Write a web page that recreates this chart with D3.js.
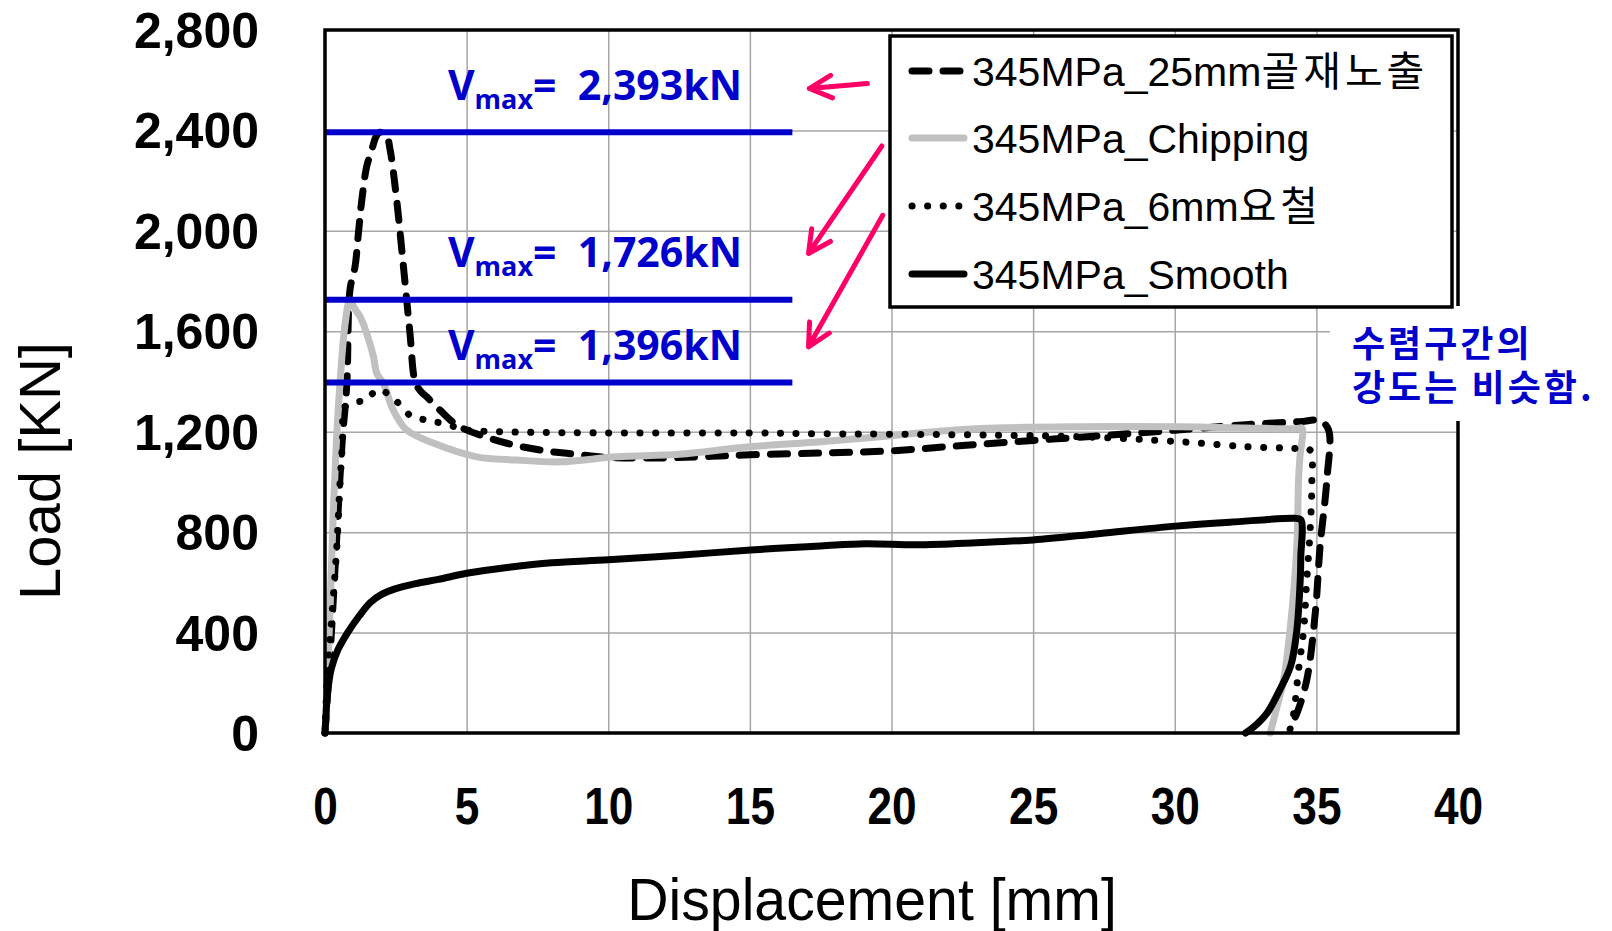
<!DOCTYPE html>
<html>
<head>
<meta charset="utf-8">
<script src="https://cdn.jsdelivr.net/npm/d3@7"></script>
<style>
  html, body { margin: 0; padding: 0; background: #fff; }
  svg { display: block; }
</style>
</head>
<body>
<div id="chart"></div>
<script>
// ---- data (displacement mm, load kN) ----
const exposed25 = [
  [0, 0], [0.2, 350], [0.4, 750], [0.6, 1150], [0.77, 1390], [0.88, 1764], [1.06, 1857],
  [1.18, 1991], [1.3, 2123], [1.47, 2255], [1.65, 2322], [1.8, 2375], [1.94, 2393],
  [2.18, 2375], [2.3, 2322], [2.53, 2123], [2.77, 1857], [3.0, 1592], [3.18, 1400],
  [3.35, 1365], [3.59, 1339], [4.06, 1286], [4.65, 1227], [5.47, 1187], [6.42, 1154],
  [7.59, 1127], [8.53, 1114], [10.0, 1098], [11.5, 1095], [13.2, 1100], [15, 1108],
  [17.5, 1115], [20, 1124], [22.5, 1145], [25, 1165], [27.5, 1185], [30, 1206],
  [32.5, 1228], [34.4, 1240], [35.13, 1244], [35.43, 1207], [35.37, 1008], [35.13, 742],
  [34.96, 477], [34.66, 211], [34.31, 78], [34.05, 20]
];
const chipping = [
  [0, 0], [0.08, 200], [0.18, 500], [0.3, 900], [0.42, 1200], [0.53, 1394], [0.7, 1620],
  [0.88, 1724], [1.05, 1690], [1.24, 1658], [1.47, 1592], [1.71, 1500], [1.83, 1432],
  [2.06, 1393], [2.41, 1286], [2.88, 1207], [3.82, 1155], [5.36, 1100], [6.77, 1087],
  [8.3, 1080], [10.3, 1100], [12.5, 1110], [15, 1140], [17.5, 1160], [19.6, 1180],
  [21.5, 1200], [23.13, 1213], [26.66, 1220], [30.2, 1220], [32.5, 1215], [34.3, 1212],
  [34.49, 1215], [34.42, 1100], [34.37, 1008], [34.31, 742], [34.07, 410], [33.84, 211],
  [33.6, 100], [33.37, 0]
];
const groove6 = [
  [0, 0], [0.05, 150], [0.1, 264], [0.24, 463], [0.41, 729], [0.53, 995], [0.62, 1167],
  [0.66, 1290], [0.77, 1306], [1.12, 1319], [1.47, 1326], [1.83, 1366], [2.3, 1346],
  [3.0, 1266], [3.59, 1246], [4.18, 1233], [5.0, 1207], [6.18, 1200], [8.53, 1196],
  [12, 1195], [15, 1195], [17.5, 1192], [20, 1190], [23.13, 1187], [26.66, 1180],
  [30.2, 1160], [32.55, 1140], [34.31, 1133], [34.78, 1127], [34.84, 1008], [34.78, 808],
  [34.66, 609], [34.55, 410], [34.37, 251], [34.2, 78], [34.07, 15]
];
const smooth = [
  [0, 0], [0.03, 60], [0.09, 160], [0.22, 255], [0.45, 330], [0.8, 400], [1.2, 465],
  [1.6, 520], [2.0, 552], [2.5, 575], [3.2, 595], [4.0, 612], [5.0, 636], [6.5, 660],
  [8.0, 678], [10, 690], [12.5, 708], [15.03, 729], [17.5, 745], [19.06, 754],
  [20.89, 750], [23, 758], [25, 769], [27.37, 795], [30.03, 824], [32, 840],
  [34.26, 855], [34.45, 850], [34.45, 700], [34.43, 609], [34.31, 410], [34.1, 270],
  [33.7, 170], [33.25, 78], [32.8, 25], [32.5, 0]
];

const seriesNames = ['345MPa_25mm골재노출', '345MPa_Chipping', '345MPa_6mm요철', '345MPa_Smooth'];
const xTicks = [0, 5, 10, 15, 20, 25, 30, 35, 40];
const yTicks = [0, 400, 800, 1200, 1600, 2000, 2400, 2800];

// peak loads marked with blue lines
const vmaxValues = [2393, 1726, 1396];
const vmaxLabels = ['2,393kN', '1,726kN', '1,396kN'];
const vmaxLabelY = [2521, 1857, 1486];
const vmaxLineEnd = 16.5;
const vmaxLabelX = 4.34;

// arrows [fromX, fromY, toX, toY] in data units
const arrows = [
  [19.15, 2587, 17.10, 2567],
  [19.66, 2338, 17.07, 1910],
  [19.69, 2062, 17.07, 1538]
];
const noteLines = ['수렴구간의', '강도는 비슷함.'];

// ---- layout ----
const W = 1612, H = 931;
const margin = { top: 30, right: 154, bottom: 198, left: 325 };
const innerW = W - margin.left - margin.right;
const innerH = H - margin.top - margin.bottom;
const BLUE = '#0000cc', PINK = '#ff0066';
const SANS = '"Liberation Sans", Arial, "Noto Sans CJK KR", sans-serif';

const svg = d3.select('#chart').append('svg')
  .attr('width', W).attr('height', H);

const x = d3.scaleLinear().domain([0, 40]).range([margin.left, margin.left + innerW]);
const y = d3.scaleLinear().domain([0, 2800]).range([margin.top + innerH, margin.top]);

// gridlines
svg.append('g')
  .attr('transform', `translate(0,${margin.top + innerH})`)
  .call(d3.axisBottom(x).tickValues(xTicks.slice(1, -1)).tickSize(-innerH).tickFormat(''))
  .call(g => g.select('.domain').remove())
  .call(g => g.selectAll('line').attr('stroke', '#a6a6a6').attr('stroke-width', 1.5));
svg.append('g')
  .attr('transform', `translate(${margin.left},0)`)
  .call(d3.axisLeft(y).tickValues(yTicks.slice(1, -1)).tickSize(-innerW).tickFormat(''))
  .call(g => g.select('.domain').remove())
  .call(g => g.selectAll('line').attr('stroke', '#a6a6a6').attr('stroke-width', 1.5));

// series
const styles = [
  { stroke: '#000', width: 7, dash: '17,14', cap: 'round' },
  { stroke: '#c0c0c0', width: 7, dash: null, cap: 'round' },
  { stroke: '#000', width: 7, dash: '0.1,15.5', cap: 'round' },
  { stroke: '#000', width: 7, dash: null, cap: 'round' }
];
const allSeries = [exposed25, chipping, groove6, smooth];

const line = d3.line()
  .x(d => x(d[0]))
  .y(d => y(d[1]))
  .curve(d3.curveCatmullRom.alpha(0.5));

allSeries.forEach((s, i) => {
  const st = styles[i];
  svg.append('path')
    .datum(s)
    .attr('fill', 'none')
    .attr('stroke', st.stroke)
    .attr('stroke-width', st.width)
    .attr('stroke-linecap', st.cap)
    .attr('stroke-linejoin', 'round')
    .attr('stroke-dasharray', st.dash)
    .attr('d', line);
});

// blue Vmax lines + labels
vmaxValues.forEach((v, i) => {
  svg.append('line')
    .attr('x1', x(0)).attr('x2', x(vmaxLineEnd))
    .attr('y1', y(v)).attr('y2', y(v))
    .attr('stroke', BLUE).attr('stroke-width', 6);

  const t = svg.append('text')
    .attr('x', x(vmaxLabelX)).attr('y', y(vmaxLabelY[i]))
    .attr('fill', BLUE)
    .attr('font-family', '"Open Sans", "Noto Sans CJK KR", sans-serif')
    .attr('font-weight', 700)
    .attr('font-size', 41)
    .style('white-space', 'pre');
  t.append('tspan').text('V');
  t.append('tspan').attr('font-size', 27).attr('dy', 9).text('max');
  t.append('tspan').attr('dy', -9).text('=  ' + vmaxLabels[i]);
});

// plot frame
svg.append('rect')
  .attr('x', margin.left).attr('y', margin.top)
  .attr('width', innerW).attr('height', innerH)
  .attr('fill', 'none').attr('stroke', '#000').attr('stroke-width', 3.5);

// axes labels
const xAxis = svg.append('g')
  .attr('transform', `translate(0,${margin.top + innerH})`)
  .call(d3.axisBottom(x).tickValues(xTicks).tickSize(0).tickPadding(54));
xAxis.select('.domain').remove();
xAxis.selectAll('text')
  .attr('font-family', SANS).attr('font-size', 52).attr('font-weight', 700)
  .attr('fill', '#000').attr('transform', 'scale(0.85,1)');

const yAxis = svg.append('g')
  .attr('transform', `translate(${margin.left},0)`)
  .call(d3.axisLeft(y).tickValues(yTicks).tickSize(0).tickPadding(66).tickFormat(d3.format(',')));
yAxis.select('.domain').remove();
yAxis.selectAll('text')
  .attr('font-family', SANS).attr('font-size', 50).attr('font-weight', 700)
  .attr('fill', '#000').attr('dy', '0.35em');

svg.append('text')
  .attr('transform', 'translate(872,920) scale(0.97,1)')
  .attr('text-anchor', 'middle')
  .attr('font-family', SANS).attr('font-size', 59)
  .text('Displacement [mm]');

svg.append('text')
  .attr('transform', 'translate(60,471) rotate(-90)')
  .attr('text-anchor', 'middle')
  .attr('font-family', SANS).attr('font-size', 58)
  .text('Load [KN]');

// note box (covers frame on the right)
svg.append('rect')
  .attr('x', 1330).attr('y', 306).attr('width', W - 1330).attr('height', 115)
  .attr('fill', '#fff');
noteLines.forEach((l, i) => {
  svg.append('text')
    .attr('x', 1352).attr('y', 357 + i * 44)
    .attr('fill', BLUE)
    .attr('font-family', '"Noto Sans CJK KR", sans-serif')
    .attr('font-weight', 700).attr('font-size', 36)
    .attr('letter-spacing', 3)
    .text(l);
});

// arrows
const armLen = 25, armAng = 27 * Math.PI / 180;
arrows.forEach(a => {
  const x0 = x(a[0]), y0 = y(a[1]), x1 = x(a[2]), y1 = y(a[3]);
  const back = Math.atan2(y0 - y1, x0 - x1);
  const p = d3.path();
  p.moveTo(x0, y0); p.lineTo(x1, y1);
  p.moveTo(x1 + armLen * Math.cos(back - armAng), y1 + armLen * Math.sin(back - armAng));
  p.lineTo(x1, y1);
  p.lineTo(x1 + armLen * Math.cos(back + armAng), y1 + armLen * Math.sin(back + armAng));
  svg.append('path')
    .attr('d', p.toString())
    .attr('fill', 'none').attr('stroke', PINK).attr('stroke-width', 5)
    .attr('stroke-linecap', 'round').attr('stroke-linejoin', 'round');
});

// legend
const lg = svg.append('g');
lg.append('rect')
  .attr('x', 890).attr('y', 36).attr('width', 562).attr('height', 271)
  .attr('fill', '#fff').attr('stroke', '#000').attr('stroke-width', 3.5);
const rowY = [71, 138, 206, 274];
seriesNames.forEach((name, i) => {
  const st = styles[i];
  lg.append('line')
    .attr('x1', 912).attr('x2', 964)
    .attr('y1', rowY[i]).attr('y2', rowY[i])
    .attr('stroke', st.stroke).attr('stroke-width', st.width)
    .attr('stroke-linecap', st.cap)
    .attr('stroke-dasharray', st.dash);
  const m = name.match(/^([\x00-\x7f]+)(.*)$/);
  const t = lg.append('text')
    .attr('x', 972).attr('y', rowY[i] + 15)
    .attr('font-family', SANS).attr('font-size', 41);
  t.append('tspan').text(m[1]);
  if (m[2]) t.append('tspan').attr('letter-spacing', 4).text(m[2]);
});
</script>
</body>
</html>
